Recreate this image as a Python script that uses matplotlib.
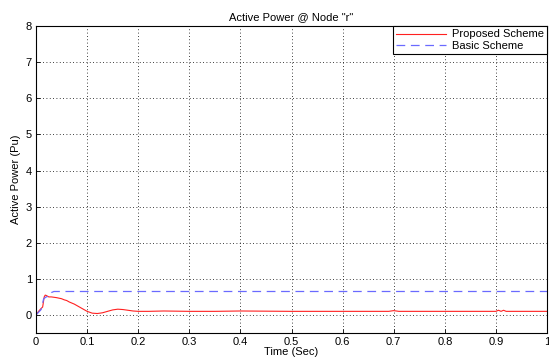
import numpy as np
import matplotlib.pyplot as plt

plt.rcParams['font.family'] = ['Liberation Sans', 'DejaVu Sans']

# Proposed scheme (red, solid)
t_prop = [0, 0.005, 0.01, 0.013, 0.016, 0.018, 0.02, 0.025, 0.03, 0.04, 0.05, 0.055,
          0.06, 0.065, 0.07, 0.075, 0.08, 0.085, 0.09, 0.1, 0.11, 0.12, 0.13, 0.14,
          0.15, 0.16, 0.17, 0.18, 0.19, 0.2, 0.22, 0.25, 0.3, 0.35, 0.4, 0.5, 0.6,
          0.69, 0.7, 0.71, 0.8, 0.9, 0.905, 0.91, 0.915, 0.92, 1.0]
p_prop = [0, 0.1, 0.18, 0.22, 0.5, 0.55, 0.54, 0.5, 0.5, 0.48, 0.45, 0.42,
          0.4, 0.36, 0.33, 0.3, 0.26, 0.22, 0.18, 0.1, 0.05, 0.04, 0.06, 0.1,
          0.14, 0.16, 0.15, 0.13, 0.11, 0.1, 0.1, 0.11, 0.1, 0.1, 0.11, 0.1, 0.1,
          0.1, 0.12, 0.1, 0.1, 0.1, 0.13, 0.1, 0.13, 0.1, 0.1]

# Basic scheme (blue, dashed)
t_basic = [0, 0.01, 0.015, 0.02, 0.025, 0.03, 0.035, 1.0]
p_basic = [0, 0.15, 0.45, 0.5, 0.52, 0.62, 0.65, 0.65]

x_ticks = np.arange(0, 1.01, 0.1)
x_labels = ['0', '0.1', '0.2', '0.3', '0.4', '0.5', '0.6', '0.7', '0.8', '0.9', '1']
y_ticks = np.arange(0, 9, 1)

fs = 8
fig = plt.figure(figsize=(5.49, 3.58), dpi=100)
ax = fig.add_axes([0.0656, 0.0698, 0.9308, 0.8572])

ax.plot(t_prop, p_prop, color='#ff2020', lw=0.8, label='Proposed Scheme')
ax.plot(t_basic, p_basic, color='#6a6aff', lw=0.9, ls=(0, (7, 4.5)), label='Basic Scheme')

ax.set_xlim(0, 1)
ax.set_ylim(-0.5, 8)
ax.set_xticks(x_ticks)
ax.set_xticklabels(x_labels)
ax.set_yticks(y_ticks)
ax.tick_params(labelsize=fs, direction='in', length=3, width=0.6, pad=3)
ax.grid(True, color='black', ls=(0, (1, 3)), lw=0.6)
for s in ax.spines.values():
    s.set_linewidth(0.8)

ax.set_title('Active Power @ Node "r"', fontsize=fs, pad=4)
ax.set_xlabel('Time (Sec)', fontsize=fs, labelpad=0)
ax.set_ylabel('Active Power (Pu)', fontsize=fs, labelpad=3)

leg = ax.legend(loc='upper right', fontsize=fs, fancybox=False, edgecolor='black',
                framealpha=1, borderaxespad=0, handlelength=4.5, borderpad=0.3,
                labelspacing=0.1, handletextpad=0.5)
leg.get_frame().set_linewidth(0.8)

fig.savefig('out.png', dpi=100)
